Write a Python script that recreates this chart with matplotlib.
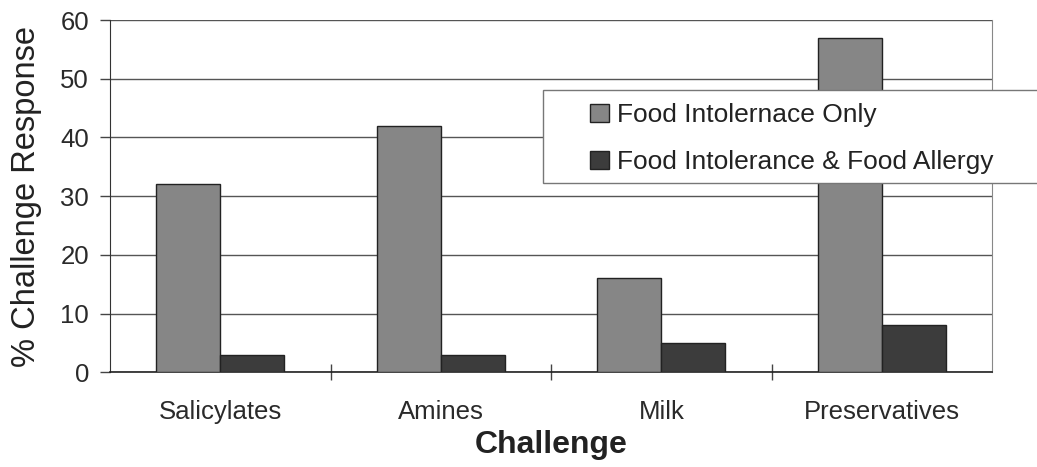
import matplotlib.pyplot as plt
from matplotlib.patches import Rectangle
import numpy as np

plt.rcParams["font.family"] = ["Liberation Sans", "DejaVu Sans"]

categories = ["Salicylates", "Amines", "Milk", "Preservatives"]
intolerance_only = [32, 42, 16, 57]
intolerance_allergy = [3, 3, 5, 8]
series_labels = ["Food Intolernace Only", "Food Intolerance & Food Allergy"]


def main():
    fig = plt.figure(figsize=(10.37, 4.67), dpi=100)
    ax = fig.add_axes([0.106, 0.203, 0.851, 0.754])

    x = np.arange(len(categories))
    w = 0.29
    b1 = ax.bar(x - w / 2, intolerance_only, w, color="#868686",
                edgecolor="#222222", linewidth=1.0, zorder=3,
                label=series_labels[0])
    b2 = ax.bar(x + w / 2, intolerance_allergy, w, color="#3c3c3c",
                edgecolor="#222222", linewidth=1.0, zorder=3,
                label=series_labels[1])

    ax.set_xlim(-0.5, len(categories) - 0.5)
    ax.set_ylim(0, 60)
    ax.set_yticks(np.arange(0, 61, 10))
    ax.yaxis.grid(True, color="#555555", linewidth=1.0, zorder=0)

    # category labels centred, tick marks on the boundaries
    ax.set_xticks(x)
    ax.set_xticklabels(categories, fontsize=18.5, color="#2a2a2a")
    ax.tick_params(axis="x", which="major", length=0, pad=20)
    ax.set_xticks(np.arange(0.5, len(categories) - 0.5, 1), minor=True)
    ax.tick_params(axis="x", which="minor", direction="inout", length=12,
                   width=1.0, color="#444444")
    ax.tick_params(axis="y", direction="out", length=7, width=1.0, pad=8,
                   labelsize=18.5, labelcolor="#2a2a2a", color="#444444")

    ax.spines["top"].set_visible(False)
    ax.spines["left"].set_color("#333333")
    ax.spines["bottom"].set_color("#222222")
    ax.spines["bottom"].set_linewidth(1.2)
    ax.spines["right"].set_color("#888888")
    ax.spines["right"].set_linewidth(0.8)

    ax.set_xlabel("Challenge", fontsize=23, fontweight="bold",
                  color="#222222", va="top")
    ax.xaxis.set_label_coords(0.5, -0.165)
    ax.set_ylabel("% Challenge Response", fontsize=23.5, color="#222222")
    ax.yaxis.set_label_coords(-0.077, 0.5)

    # legend box runs off the right edge of the figure
    fig.patches.append(Rectangle((0.5236, 0.6081), 0.5, 0.199,
                                 transform=fig.transFigure, facecolor="white",
                                 edgecolor="#777777", linewidth=1.0, zorder=5))
    leg = fig.legend(handles=[b1, b2], labels=series_labels,
                     loc="upper left", bbox_to_anchor=(0.569, 0.779),
                     fontsize=19, frameon=False,
                     handlelength=0.7, handleheight=0.7, handletextpad=0.34,
                     labelspacing=0.88, borderpad=0, borderaxespad=0)
    leg.set_zorder(6)
    for t in leg.get_texts():
        t.set_color("#222222")

    fig.savefig("out.png", dpi=100)


if __name__ == "__main__":
    main()
